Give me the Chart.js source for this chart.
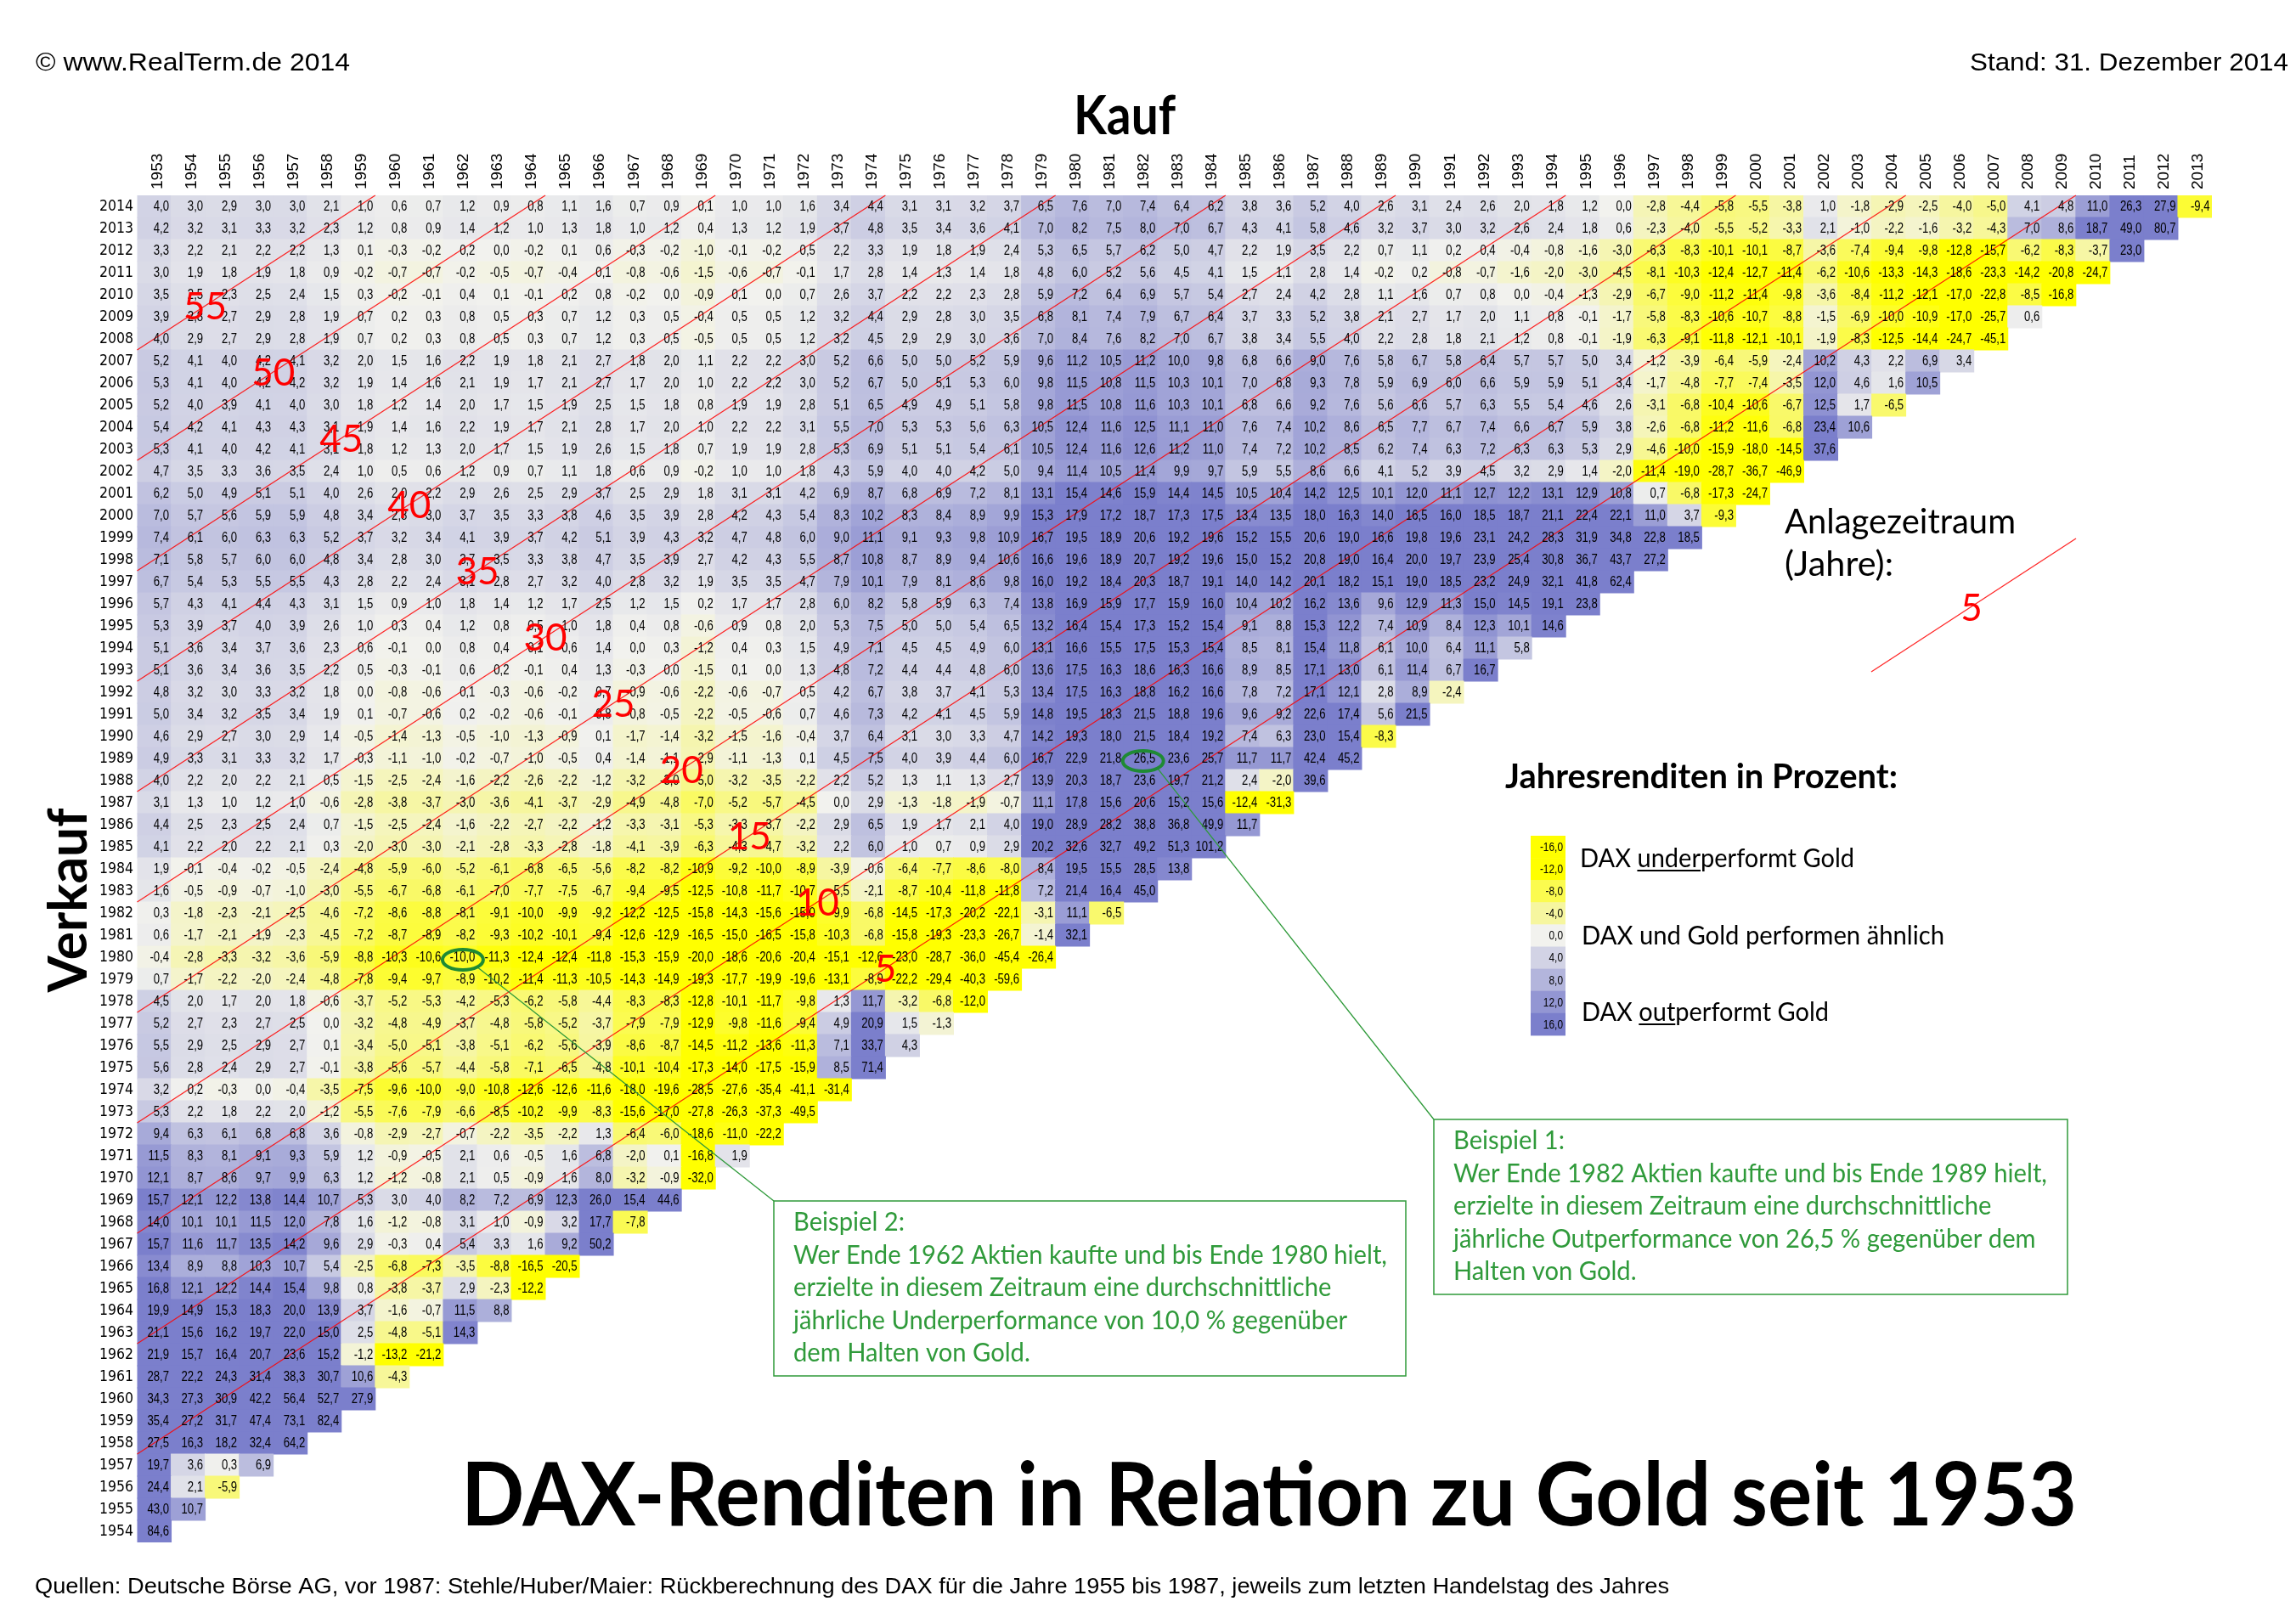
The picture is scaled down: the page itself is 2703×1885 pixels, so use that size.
<!DOCTYPE html>
<html lang="de">
<head>
<meta charset="UTF-8">
<title>DAX-Renditen in Relation zu Gold seit 1953</title>
<script src="https://cdn.jsdelivr.net/npm/chart.js"></script>
<style>
  html, body { margin: 0; padding: 0; background: #fff; overflow: hidden; }
  canvas { display: block; }
</style>
</head>
<body>
<canvas id="chart" width="2703" height="1885" style="width:2703px;height:1885px"></canvas>
<script>
// Kaufjahre (Spalten) und Verkaufsjahre (Zeilen, oben 2014)
const buyYears = Array.from({ length: 61 }, (_, i) => 1953 + i);
const sellYears = Array.from({ length: 61 }, (_, i) => 2014 - i);

// Durchschnittliche jaehrliche Mehrrendite DAX ggü. Gold in %, eine Zeile je Verkaufsjahr,
// Werte in Reihenfolge der Kaufjahre ab 1953
const excessReturns = [
  [4.0,3.0,2.9,3.0,3.0,2.1,1.0,0.6,0.7,1.2,0.9,0.8,1.1,1.6,0.7, 0.9,0.1,1.0,1.0,1.6,3.4,4.4,3.1,3.1,3.2,3.7,6.5,7.6,7.0,7.4,6.4,6.2,3.8,3.6,5.2, 4.0,2.6,3.1,2.4,2.6,2.0,1.8,1.2,0.0,-2.8,-4.4,-5.8,-5.5,-3.8,1.0,-1.8,-2.9,-2.5,-4.0,-5.0, 4.1,4.8,11.0,26.3,27.9,-9.4], // 2014
  [4.2,3.2,3.1,3.3,3.2,2.3,1.2,0.8,0.9,1.4,1.2,1.0,1.3,1.8,1.0, 1.2,0.4,1.3,1.2,1.9,3.7,4.8,3.5,3.4,3.6,4.1,7.0,8.2,7.5,8.0,7.0,6.7,4.3,4.1,5.8, 4.6,3.2,3.7,3.0,3.2,2.6,2.4,1.8,0.6,-2.3,-4.0,-5.5,-5.2,-3.3,2.1,-1.0,-2.2,-1.6,-3.2,-4.3, 7.0,8.6,18.7,49.0,80.7], // 2013
  [3.3,2.2,2.1,2.2,2.2,1.3,0.1,-0.3,-0.2,0.2,0.0,-0.2,0.1,0.6,-0.3, -0.2,-1.0,-0.1,-0.2,0.5,2.2,3.3,1.9,1.8,1.9,2.4,5.3,6.5,5.7,6.2,5.0,4.7,2.2,1.9,3.5, 2.2,0.7,1.1,0.2,0.4,-0.4,-0.8,-1.6,-3.0,-6.3,-8.3,-10.1,-10.1,-8.7,-3.6,-7.4,-9.4,-9.8,-12.8,-15.7, -6.2,-8.3,-3.7,23.0], // 2012
  [3.0,1.9,1.8,1.9,1.8,0.9,-0.2,-0.7,-0.7,-0.2,-0.5,-0.7,-0.4,0.1,-0.8, -0.6,-1.5,-0.6,-0.7,-0.1,1.7,2.8,1.4,1.3,1.4,1.8,4.8,6.0,5.2,5.6,4.5,4.1,1.5,1.1,2.8, 1.4,-0.2,0.2,-0.8,-0.7,-1.6,-2.0,-3.0,-4.5,-8.1,-10.3,-12.4,-12.7,-11.4,-6.2,-10.6,-13.3,-14.3,-18.6,-23.3, -14.2,-20.8,-24.7], // 2011
  [3.5,2.5,2.3,2.5,2.4,1.5,0.3,-0.2,-0.1,0.4,0.1,-0.1,0.2,0.8,-0.2, 0.0,-0.9,0.1,0.0,0.7,2.6,3.7,2.2,2.2,2.3,2.8,5.9,7.2,6.4,6.9,5.7,5.4,2.7,2.4,4.2, 2.8,1.1,1.6,0.7,0.8,0.0,-0.4,-1.3,-2.9,-6.7,-9.0,-11.2,-11.4,-9.8,-3.6,-8.4,-11.2,-12.1,-17.0,-22.8, -8.5,-16.8], // 2010
  [3.9,2.8,2.7,2.9,2.8,1.9,0.7,0.2,0.3,0.8,0.5,0.3,0.7,1.2,0.3, 0.5,-0.4,0.5,0.5,1.2,3.2,4.4,2.9,2.8,3.0,3.5,6.8,8.1,7.4,7.9,6.7,6.4,3.7,3.3,5.2, 3.8,2.1,2.7,1.7,2.0,1.1,0.8,-0.1,-1.7,-5.8,-8.3,-10.6,-10.7,-8.8,-1.5,-6.9,-10.0,-10.9,-17.0,-25.7, 0.6], // 2009
  [4.0,2.9,2.7,2.9,2.8,1.9,0.7,0.2,0.3,0.8,0.5,0.3,0.7,1.2,0.3, 0.5,-0.5,0.5,0.5,1.2,3.2,4.5,2.9,2.9,3.0,3.6,7.0,8.4,7.6,8.2,7.0,6.7,3.8,3.4,5.5, 4.0,2.2,2.8,1.8,2.1,1.2,0.8,-0.1,-1.9,-6.3,-9.1,-11.8,-12.1,-10.1,-1.9,-8.3,-12.5,-14.4,-24.7,-45.1], // 2008
  [5.2,4.1,4.0,4.2,4.1,3.2,2.0,1.5,1.6,2.2,1.9,1.8,2.1,2.7,1.8, 2.0,1.1,2.2,2.2,3.0,5.2,6.6,5.0,5.0,5.2,5.9,9.6,11.2,10.5,11.2,10.0,9.8,6.8,6.6,9.0, 7.6,5.8,6.7,5.8,6.4,5.7,5.7,5.0,3.4,-1.2,-3.9,-6.4,-5.9,-2.4,10.2,4.3,2.2,6.9,3.4], // 2007
  [5.3,4.1,4.0,4.2,4.2,3.2,1.9,1.4,1.6,2.1,1.9,1.7,2.1,2.7,1.7, 2.0,1.0,2.2,2.2,3.0,5.2,6.7,5.0,5.1,5.3,6.0,9.8,11.5,10.8,11.5,10.3,10.1,7.0,6.8,9.3, 7.8,5.9,6.9,6.0,6.6,5.9,5.9,5.1,3.4,-1.7,-4.8,-7.7,-7.4,-3.5,12.0,4.6,1.6,10.5], // 2006
  [5.2,4.0,3.9,4.1,4.0,3.0,1.8,1.2,1.4,2.0,1.7,1.5,1.9,2.5,1.5, 1.8,0.8,1.9,1.9,2.8,5.1,6.5,4.9,4.9,5.1,5.8,9.8,11.5,10.8,11.6,10.3,10.1,6.8,6.6,9.2, 7.6,5.6,6.6,5.7,6.3,5.5,5.4,4.6,2.6,-3.1,-6.8,-10.4,-10.6,-6.7,12.5,1.7,-6.5], // 2005
  [5.4,4.2,4.1,4.3,4.3,3.1,1.9,1.4,1.6,2.2,1.9,1.7,2.1,2.8,1.7, 2.0,1.0,2.2,2.2,3.1,5.5,7.0,5.3,5.3,5.6,6.3,10.5,12.4,11.6,12.5,11.1,11.0,7.6,7.4,10.2, 8.6,6.5,7.7,6.7,7.4,6.6,6.7,5.9,3.8,-2.6,-6.8,-11.2,-11.6,-6.8,23.4,10.6], // 2004
  [5.3,4.1,4.0,4.2,4.1,3.1,1.8,1.2,1.3,2.0,1.7,1.5,1.9,2.6,1.5, 1.8,0.7,1.9,1.9,2.8,5.3,6.9,5.1,5.1,5.4,6.1,10.5,12.4,11.6,12.6,11.2,11.0,7.4,7.2,10.2, 8.5,6.2,7.4,6.3,7.2,6.3,6.3,5.3,2.9,-4.6,-10.0,-15.9,-18.0,-14.5,37.6], // 2003
  [4.7,3.5,3.3,3.6,3.5,2.4,1.0,0.5,0.6,1.2,0.9,0.7,1.1,1.8,0.6, 0.9,-0.2,1.0,1.0,1.8,4.3,5.9,4.0,4.0,4.2,5.0,9.4,11.4,10.5,11.4,9.9,9.7,5.9,5.5,8.6, 6.6,4.1,5.2,3.9,4.5,3.2,2.9,1.4,-2.0,-11.4,-19.0,-28.7,-36.7,-46.9], // 2002
  [6.2,5.0,4.9,5.1,5.1,4.0,2.6,2.0,2.2,2.9,2.6,2.5,2.9,3.7,2.5, 2.9,1.8,3.1,3.1,4.2,6.9,8.7,6.8,6.9,7.2,8.1,13.1,15.4,14.6,15.9,14.4,14.5,10.5,10.4,14.2, 12.5,10.1,12.0,11.1,12.7,12.2,13.1,12.9,10.8,0.7,-6.8,-17.3,-24.7], // 2001
  [7.0,5.7,5.6,5.9,5.9,4.8,3.4,2.8,3.0,3.7,3.5,3.3,3.8,4.6,3.5, 3.9,2.8,4.2,4.3,5.4,8.3,10.2,8.3,8.4,8.9,9.9,15.3,17.9,17.2,18.7,17.3,17.5,13.4,13.5,18.0, 16.3,14.0,16.5,16.0,18.5,18.7,21.1,22.4,22.1,11.0,3.7,-9.3], // 2000
  [7.4,6.1,6.0,6.3,6.3,5.2,3.7,3.2,3.4,4.1,3.9,3.7,4.2,5.1,3.9, 4.3,3.2,4.7,4.8,6.0,9.0,11.1,9.1,9.3,9.8,10.9,16.7,19.5,18.9,20.6,19.2,19.6,15.2,15.5,20.6, 19.0,16.6,19.8,19.6,23.1,24.2,28.3,31.9,34.8,22.8,18.5], // 1999
  [7.1,5.8,5.7,6.0,6.0,4.8,3.4,2.8,3.0,3.7,3.5,3.3,3.8,4.7,3.5, 3.9,2.7,4.2,4.3,5.5,8.7,10.8,8.7,8.9,9.4,10.6,16.6,19.6,18.9,20.7,19.2,19.6,15.0,15.2,20.8, 19.0,16.4,20.0,19.7,23.9,25.4,30.8,36.7,43.7,27.2], // 1998
  [6.7,5.4,5.3,5.5,5.5,4.3,2.8,2.2,2.4,3.1,2.8,2.7,3.2,4.0,2.8, 3.2,1.9,3.5,3.5,4.7,7.9,10.1,7.9,8.1,8.6,9.8,16.0,19.2,18.4,20.3,18.7,19.1,14.0,14.2,20.1, 18.2,15.1,19.0,18.5,23.2,24.9,32.1,41.8,62.4], // 1997
  [5.7,4.3,4.1,4.4,4.3,3.1,1.5,0.9,1.0,1.8,1.4,1.2,1.7,2.5,1.2, 1.5,0.2,1.7,1.7,2.8,6.0,8.2,5.8,5.9,6.3,7.4,13.8,16.9,15.9,17.7,15.9,16.0,10.4,10.2,16.2, 13.6,9.6,12.9,11.3,15.0,14.5,19.1,23.8], // 1996
  [5.3,3.9,3.7,4.0,3.9,2.6,1.0,0.3,0.4,1.2,0.8,0.5,1.0,1.8,0.4, 0.8,-0.6,0.9,0.8,2.0,5.3,7.5,5.0,5.0,5.4,6.5,13.2,16.4,15.4,17.3,15.2,15.4,9.1,8.8,15.3, 12.2,7.4,10.9,8.4,12.3,10.1,14.6], // 1995
  [5.1,3.6,3.4,3.7,3.6,2.3,0.6,-0.1,0.0,0.8,0.4,0.1,0.6,1.4,0.0, 0.3,-1.2,0.4,0.3,1.5,4.9,7.1,4.5,4.5,4.9,6.0,13.1,16.6,15.5,17.5,15.3,15.4,8.5,8.1,15.4, 11.8,6.1,10.0,6.4,11.1,5.8], // 1994
  [5.1,3.6,3.4,3.6,3.5,2.2,0.5,-0.3,-0.1,0.6,0.2,-0.1,0.4,1.3,-0.3, 0.0,-1.5,0.1,0.0,1.3,4.8,7.2,4.4,4.4,4.8,6.0,13.6,17.5,16.3,18.6,16.3,16.6,8.9,8.5,17.1, 13.0,6.1,11.4,6.7,16.7], // 1993
  [4.8,3.2,3.0,3.3,3.2,1.8,0.0,-0.8,-0.6,0.1,-0.3,-0.6,-0.2,0.7,-0.9, -0.6,-2.2,-0.6,-0.7,0.5,4.2,6.7,3.8,3.7,4.1,5.3,13.4,17.5,16.3,18.8,16.2,16.6,7.8,7.2,17.1, 12.1,2.8,8.9,-2.4], // 1992
  [5.0,3.4,3.2,3.5,3.4,1.9,0.1,-0.7,-0.6,0.2,-0.2,-0.6,-0.1,0.8,-0.8, -0.5,-2.2,-0.5,-0.6,0.7,4.6,7.3,4.2,4.1,4.5,5.9,14.8,19.5,18.3,21.5,18.8,19.6,9.6,9.2,22.6, 17.4,5.6,21.5], // 1991
  [4.6,2.9,2.7,3.0,2.9,1.4,-0.5,-1.4,-1.3,-0.5,-1.0,-1.3,-0.9,0.1,-1.7, -1.4,-3.2,-1.5,-1.6,-0.4,3.7,6.4,3.1,3.0,3.3,4.7,14.2,19.3,18.0,21.5,18.4,19.2,7.4,6.3,23.0, 15.4,-8.3], // 1990
  [4.9,3.3,3.1,3.3,3.2,1.7,-0.3,-1.1,-1.0,-0.2,-0.7,-1.0,-0.5,0.4,-1.4, -1.1,-2.9,-1.1,-1.3,0.1,4.5,7.5,4.0,3.9,4.4,6.0,16.7,22.9,21.8,26.5,23.6,25.7,11.7,11.7,42.4, 45.2], // 1989
  [4.0,2.2,2.0,2.2,2.1,0.5,-1.5,-2.5,-2.4,-1.6,-2.2,-2.6,-2.2,-1.2,-3.2, -3.0,-5.0,-3.2,-3.5,-2.2,2.2,5.2,1.3,1.1,1.3,2.7,13.9,20.3,18.7,23.6,19.7,21.2,2.4,-2.0,39.6], // 1988
  [3.1,1.3,1.0,1.2,1.0,-0.6,-2.8,-3.8,-3.7,-3.0,-3.6,-4.1,-3.7,-2.9,-4.9, -4.8,-7.0,-5.2,-5.7,-4.5,0.0,2.9,-1.3,-1.8,-1.9,-0.7,11.1,17.8,15.6,20.6,15.2,15.6,-12.4,-31.3], // 1987
  [4.4,2.5,2.3,2.5,2.4,0.7,-1.5,-2.5,-2.4,-1.6,-2.2,-2.7,-2.2,-1.2,-3.3, -3.1,-5.3,-3.3,-3.7,-2.2,2.9,6.5,1.9,1.7,2.1,4.0,19.0,28.9,28.2,38.8,36.8,49.9,11.7], // 1986
  [4.1,2.2,2.0,2.2,2.1,0.3,-2.0,-3.0,-3.0,-2.1,-2.8,-3.3,-2.8,-1.8,-4.1, -3.9,-6.3,-4.3,-4.7,-3.2,2.2,6.0,1.0,0.7,0.9,2.9,20.2,32.6,32.7,49.2,51.3,101.2], // 1985
  [1.9,-0.1,-0.4,-0.2,-0.5,-2.4,-4.8,-5.9,-6.0,-5.2,-6.1,-6.8,-6.5,-5.6,-8.2, -8.2,-10.9,-9.2,-10.0,-8.9,-3.9,-0.6,-6.4,-7.7,-8.6,-8.0,8.4,19.5,15.5,28.5,13.8], // 1984
  [1.6,-0.5,-0.9,-0.7,-1.0,-3.0,-5.5,-6.7,-6.8,-6.1,-7.0,-7.7,-7.5,-6.7,-9.4, -9.5,-12.5,-10.8,-11.7,-10.7,-5.5,-2.1,-8.7,-10.4,-11.8,-11.8,7.2,21.4,16.4,45.0], // 1983
  [0.3,-1.8,-2.3,-2.1,-2.5,-4.6,-7.2,-8.6,-8.8,-8.1,-9.1,-10.0,-9.9,-9.2,-12.2, -12.5,-15.8,-14.3,-15.6,-15.0,-9.9,-6.8,-14.5,-17.3,-20.2,-22.1,-3.1,11.1,-6.5], // 1982
  [0.6,-1.7,-2.1,-1.9,-2.3,-4.5,-7.2,-8.7,-8.9,-8.2,-9.3,-10.2,-10.1,-9.4,-12.6, -12.9,-16.5,-15.0,-16.5,-15.8,-10.3,-6.8,-15.8,-19.3,-23.3,-26.7,-1.4,32.1], // 1981
  [-0.4,-2.8,-3.3,-3.2,-3.6,-5.9,-8.8,-10.3,-10.6,-10.0,-11.3,-12.4,-12.4,-11.8,-15.3, -15.9,-20.0,-18.6,-20.6,-20.4,-15.1,-12.6,-23.0,-28.7,-36.0,-45.4,-26.4], // 1980
  [0.7,-1.7,-2.2,-2.0,-2.4,-4.8,-7.8,-9.4,-9.7,-8.9,-10.2,-11.4,-11.3,-10.5,-14.3, -14.9,-19.3,-17.7,-19.9,-19.6,-13.1,-8.9,-22.2,-29.4,-40.3,-59.6], // 1979
  [4.5,2.0,1.7,2.0,1.8,-0.6,-3.7,-5.2,-5.3,-4.2,-5.3,-6.2,-5.8,-4.4,-8.3, -8.3,-12.8,-10.1,-11.7,-9.8,1.3,11.7,-3.2,-6.8,-12.0], // 1978
  [5.2,2.7,2.3,2.7,2.5,0.0,-3.2,-4.8,-4.9,-3.7,-4.8,-5.8,-5.2,-3.7,-7.9, -7.9,-12.9,-9.8,-11.6,-9.4,4.9,20.9,1.5,-1.3], // 1977
  [5.5,2.9,2.5,2.9,2.7,0.1,-3.4,-5.0,-5.1,-3.8,-5.1,-6.2,-5.6,-3.9,-8.6, -8.7,-14.5,-11.2,-13.6,-11.3,7.1,33.7,4.3], // 1976
  [5.6,2.8,2.4,2.9,2.7,-0.1,-3.8,-5.6,-5.7,-4.4,-5.8,-7.1,-6.5,-4.8,-10.1, -10.4,-17.3,-14.0,-17.5,-15.9,8.5,71.4], // 1975
  [3.2,0.2,-0.3,0.0,-0.4,-3.5,-7.5,-9.6,-10.0,-9.0,-10.8,-12.6,-12.6,-11.6,-18.0,-19.6,-28.5,-27.6,-35.4,-41.1,-31.4], // 1974
  [5.3,2.2,1.8,2.2,2.0,-1.2,-5.5,-7.6,-7.9,-6.6,-8.5,-10.2,-9.9,-8.3,-15.6,-17.0,-27.8,-26.3,-37.3,-49.5], // 1973
  [9.4,6.3,6.1,6.8,6.8,3.6,-0.8,-2.9,-2.7,-0.7,-2.2,-3.5,-2.2,1.3,-6.4,-6.0,-18.6,-11.0,-22.2], // 1972
  [11.5,8.3,8.1,9.1,9.3,5.9,1.2,-0.9,-0.5,2.1,0.6,-0.5,1.6,6.8,-2.0,0.1,-16.8,1.9], // 1971
  [12.1,8.7,8.6,9.7,9.9,6.3,1.2,-1.2,-0.8,2.1,0.5,-0.9,1.6,8.0,-3.2,-0.9,-32.0], // 1970
  [15.7,12.1,12.2,13.8,14.4,10.7,5.3,3.0,4.0,8.2,7.2,6.9,12.3,26.0,15.4,44.6], // 1969
  [14.0,10.1,10.1,11.5,12.0,7.8,1.6,-1.2,-0.8,3.1,1.0,-0.9,3.2,17.7,-7.8], // 1968
  [15.7,11.6,11.7,13.5,14.2,9.6,2.9,-0.3,0.4,5.4,3.3,1.6,9.2,50.2], // 1967
  [13.4,8.9,8.8,10.3,10.7,5.4,-2.5,-6.8,-7.3,-3.5,-8.8,-16.5,-20.5], // 1966
  [16.8,12.1,12.2,14.4,15.4,9.8,0.8,-3.8,-3.7,2.9,-2.3,-12.2], // 1965
  [19.9,14.9,15.3,18.3,20.0,13.9,3.7,-1.6,-0.7,11.5,8.8], // 1964
  [21.1,15.6,16.2,19.7,22.0,15.0,2.5,-4.8,-5.1,14.3], // 1963
  [21.9,15.7,16.4,20.7,23.6,15.2,-1.2,-13.2,-21.2], // 1962
  [28.7,22.2,24.3,31.4,38.3,30.7,10.6,-4.3], // 1961
  [34.3,27.3,30.9,42.2,56.4,52.7,27.9], // 1960
  [35.4,27.2,31.7,47.4,73.1,82.4], // 1959
  [27.5,16.3,18.2,32.4,64.2], // 1958
  [19.7,3.6,0.3,6.9], // 1957
  [24.4,2.1,-5.9], // 1956
  [43.0,10.7], // 1955
  [84.6] // 1954
];

// Haltedauern der roten Hilfslinien und Legendenstufen
const holdingPeriods = [55, 50, 45, 40, 35, 30, 25, 20, 15, 10, 5];
const legendSteps = [-16, -12, -8, -4, 0, 4, 8, 12, 16];
// Beispiele: [Kaufjahr, Verkaufsjahr]
const example1 = [1982, 1989];
const example2 = [1962, 1980];

const GREEN = '#2f9a3a';
const NARROW = "'Liberation Sans Narrow', 'DejaVu Sans Condensed', 'Liberation Sans', sans-serif";
const ARIAL = "'Liberation Sans', Arial, sans-serif";
const LATO = "Lato, 'Open Sans', sans-serif";

function fmt(v) { return v.toFixed(1).replace('.', ','); }

// Farbskala: gelb (DAX schlechter) - grau - blau (DAX besser)
function cellColor(v) {
  const mid = [242, 242, 238];
  let t, end;
  if (v < 0) { t = Math.min(1, -v / 12); end = [255, 255, 0]; }
  else { t = Math.min(1, v / 15); end = [123, 127, 204]; }
  const c = mid.map((m, k) => Math.round(m + (end[k] - m) * t));
  return `rgb(${c[0]},${c[1]},${c[2]})`;
}

// Zellen als schwebende Balken: x = Kaufjahr, y = Verkaufsjahr +/- 0,5
const cells = [];
excessReturns.forEach((row, r) => {
  const sell = sellYears[r];
  if (row.length !== sell - 1953) console.warn('Zeile', sell, row.length);
  row.forEach((v, c) => cells.push({ x: String(buyYears[c]), y: [sell - 0.5, sell + 0.5], v: v }));
});

function text(ctx, str, x, y, font, color, align, width) {
  ctx.save();
  ctx.font = font;
  ctx.fillStyle = color;
  ctx.textBaseline = 'alphabetic';
  ctx.textAlign = align || 'left';
  const sx = width ? width / ctx.measureText(str).width : 1;
  ctx.translate(x, y);
  ctx.scale(sx, 1);
  ctx.fillText(str, 0, 0);
  ctx.restore();
  return sx;
}

const decor = {
  id: 'decor',
  afterDatasetsDraw(chart) {
    const ctx = chart.ctx;
    const xs = chart.scales.x, ys = chart.scales.y;
    const cw = xs.getPixelForValue(1) - xs.getPixelForValue(0);
    const colLeft = b => xs.getPixelForValue(buyYears.indexOf(b)) - cw / 2;

    // rote Linien gleicher Haltedauer
    ctx.save();
    ctx.strokeStyle = 'rgba(255,0,0,0.85)';
    ctx.lineWidth = 1.3;
    holdingPeriods.forEach(h => {
      ctx.beginPath();
      ctx.moveTo(colLeft(1953), ys.getPixelForValue(1953 + h - 0.5));
      ctx.lineTo(colLeft(2014 - h) + cw, ys.getPixelForValue(2014.5));
      ctx.stroke();
    });
    ctx.restore();

    // Zahlen in den Zellen
    const meta = chart.getDatasetMeta(0);
    ctx.save();
    ctx.font = '16px ' + ARIAL;
    ctx.fillStyle = '#000';
    ctx.textAlign = 'right';
    ctx.textBaseline = 'middle';
    meta.data.forEach((el, i) => {
      const p = el.getProps(['x', 'y', 'base', 'width'], true);
      const right = p.x + p.width / 2 - 2.5;
      const cy = (p.y + p.base) / 2 + 1;
      ctx.save();
      ctx.translate(right, cy);
      ctx.scale(0.82, 1);
      ctx.fillText(fmt(cells[i].v), 0, 0);
      ctx.restore();
    });
    ctx.restore();

    // Beschriftung der Haltedauern
    ctx.save();
    ctx.fillStyle = '#ff0000';
    ctx.font = '44px ' + LATO;
    ctx.textAlign = 'center';
    ctx.textBaseline = 'middle';
    holdingPeriods.forEach((h, k) => {
      const b = 1955 + 2 * k;
      ctx.fillText(String(h), colLeft(b), ys.getPixelForValue(b + h - 0.5) + 2);
    });
    ctx.restore();

    // Beispiele: Ellipsen + Verbindungslinien + Textkästen
    const boxes = [
      { ex: example1, box: [1688, 1318, 746, 206], lines: ['Beispiel 1:', 'Wer Ende 1982 Aktien kaufte und bis Ende 1989 hielt,', 'erzielte in diesem Zeitraum eine durchschnittliche', 'jährliche Outperformance von 26,5 % gegenüber dem', 'Halten von Gold.'] },
      { ex: example2, box: [911, 1414, 744, 206], lines: ['Beispiel 2:', 'Wer Ende 1962 Aktien kaufte und bis Ende 1980 hielt,', 'erzielte in diesem Zeitraum eine durchschnittliche', 'jährliche Underperformance von 10,0 % gegenüber', 'dem Halten von Gold.'] }
    ];
    boxes.forEach(bx => {
      const cx = xs.getPixelForValue(buyYears.indexOf(bx.ex[0])) + 3;
      const cy = ys.getPixelForValue(bx.ex[1]) + 3;
      const rx = 24, ry = 12;
      ctx.save();
      ctx.strokeStyle = GREEN;
      ctx.lineWidth = 1.3;
      ctx.beginPath();
      ctx.moveTo(cx + rx * 0.7, cy + ry * 0.7);
      ctx.lineTo(bx.box[0], bx.box[1]);
      ctx.stroke();
      ctx.strokeStyle = '#1f8a34';
      ctx.lineWidth = 4;
      ctx.beginPath();
      ctx.ellipse(cx, cy, rx, ry, 0, 0, Math.PI * 2);
      ctx.stroke();
      ctx.fillStyle = '#fff';
      ctx.fillRect(bx.box[0], bx.box[1], bx.box[2], bx.box[3]);
      ctx.strokeStyle = GREEN;
      ctx.lineWidth = 1.5;
      ctx.strokeRect(bx.box[0], bx.box[1], bx.box[2], bx.box[3]);
      ctx.font = '30px ' + LATO;
      const sx = 699 / ctx.measureText(bx.lines[1]).width;
      bx.lines.forEach((ln, k) => {
        ctx.save();
        ctx.fillStyle = GREEN;
        ctx.textBaseline = 'alphabetic';
        ctx.translate(bx.box[0] + 23, bx.box[1] + 35 + k * 38.5);
        ctx.scale(sx, 1);
        ctx.fillText(ln, 0, 0);
        ctx.restore();
      });
      ctx.restore();
    });
  },
  afterDraw(chart) {
    const ctx = chart.ctx;

    text(ctx, '© www.RealTerm.de 2014', 42, 83, '30px ' + ARIAL, '#000', 'left', 370);
    text(ctx, 'Stand: 31. Dezember 2014', 2694, 83, '30px ' + ARIAL, '#000', 'right', 375);
    text(ctx, 'Kauf', 1324, 158, '700 64px ' + LATO, '#000', 'center', 120);

    ctx.save();
    ctx.translate(102, 1060);
    ctx.rotate(-Math.PI / 2);
    text(ctx, 'Verkauf', 0, 0, '700 64px ' + LATO, '#000', 'center', 217);
    ctx.restore();

    text(ctx, 'DAX-Renditen in Relation zu Gold seit 1953', 543, 1796, '700 104px ' + LATO, '#000', 'left', 1902);
    text(ctx, 'Quellen: Deutsche Börse AG, vor 1987: Stehle/Huber/Maier: Rückberechnung des DAX für die Jahre 1955 bis 1987, jeweils zum letzten Handelstag des Jahres',
      41, 1876, '26px ' + ARIAL, '#000', 'left', 1924);

    // Legende Anlagezeitraum
    text(ctx, 'Anlagezeitraum', 2101, 628, '40px ' + LATO, '#000', 'left', 272);
    text(ctx, '(Jahre):', 2101, 678, '40px ' + LATO, '#000', 'left', 128);
    ctx.save();
    ctx.strokeStyle = 'rgba(255,0,0,0.85)';
    ctx.lineWidth = 1.3;
    ctx.beginPath();
    ctx.moveTo(2203, 791);
    ctx.lineTo(2444, 634);
    ctx.stroke();
    ctx.fillStyle = '#ff0000';
    ctx.font = '44px ' + LATO;
    ctx.textAlign = 'center';
    ctx.textBaseline = 'middle';
    ctx.fillText('5', 2321, 717);
    ctx.restore();

    // Legende Farbskala
    text(ctx, 'Jahresrenditen in Prozent:', 1772, 928, '700 40px ' + LATO, '#000', 'left', 462);
    const bh = 26.1;
    legendSteps.forEach((v, k) => {
      const y = 984 + k * bh;
      ctx.fillStyle = cellColor(v);
      ctx.fillRect(1802, y, 41, bh + 0.5);
      ctx.save();
      ctx.font = '14px ' + ARIAL;
      ctx.fillStyle = '#000';
      ctx.textAlign = 'right';
      ctx.textBaseline = 'middle';
      ctx.translate(1840, y + bh / 2 + 1);
      ctx.scale(0.85, 1);
      ctx.fillText(fmt(v), 0, 0);
      ctx.restore();
    });

    const legendLines = [
      { pre: 'DAX ', ul: 'under', rest: 'performt Gold', x: 1860, y: 1021, w: 323 },
      { pre: 'DAX und Gold performen ähnlich', ul: '', rest: '', x: 1862, y: 1112, w: 427 },
      { pre: 'DAX ', ul: 'out', rest: 'performt Gold', x: 1862, y: 1202, w: 291 }
    ];
    legendLines.forEach(l => {
      const full = l.pre + l.ul + l.rest;
      const sx = text(ctx, full, l.x, l.y, '30px ' + LATO, '#000', 'left', l.w);
      if (l.ul) {
        ctx.save();
        ctx.font = '30px ' + LATO;
        const x0 = l.x + ctx.measureText(l.pre).width * sx;
        const x1 = x0 + ctx.measureText(l.ul).width * sx;
        ctx.fillStyle = '#000';
        ctx.fillRect(x0, l.y + 3, x1 - x0, 2);
        ctx.restore();
      }
    });
  }
};

new Chart(document.getElementById('chart'), {
  type: 'bar',
  data: {
    labels: buyYears.map(String),
    datasets: [{
      data: cells,
      backgroundColor: c => (c.raw ? cellColor(c.raw.v) : '#fff'),
      borderWidth: 0,
      inflateAmount: 0.5,
      barPercentage: 1,
      categoryPercentage: 1
    }]
  },
  options: {
    responsive: false,
    devicePixelRatio: 1,
    animation: false,
    layout: { padding: { left: 0, top: 0, right: 99, bottom: 69 } },
    plugins: { legend: { display: false }, tooltip: { enabled: false } },
    scales: {
      x: {
        type: 'category',
        position: 'top',
        offset: true,
        grid: { display: false, drawTicks: false },
        border: { display: false },
        ticks: {
          autoSkip: false, minRotation: 90, maxRotation: 90, padding: 7,
          labelOffset: 27,
          color: '#000', font: { family: ARIAL, size: 19 }
        },
        afterFit: s => { s.height = 230; }
      },
      y: {
        type: 'linear',
        position: 'left',
        min: 1953.5,
        max: 2014.5,
        bounds: 'data',
        beginAtZero: false,
        grid: { display: false, drawTicks: false },
        border: { display: false },
        ticks: {
          autoSkip: false, padding: 4.5, color: '#000',
          font: { family: NARROW, size: 17.5 },
          callback: v => String(v)
        },
        afterBuildTicks: a => { a.ticks = sellYears.map(v => ({ value: v })); },
        afterFit: s => { s.width = 161.5; }
      }
    }
  },
  plugins: [decor]
});
</script>
</body>
</html>
